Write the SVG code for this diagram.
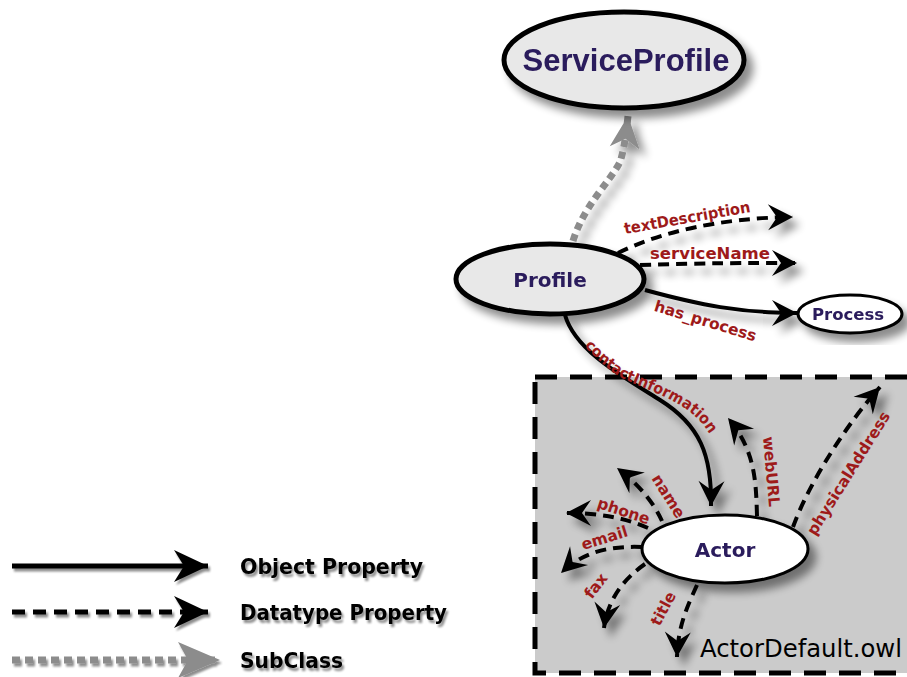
<svg xmlns="http://www.w3.org/2000/svg" width="907" height="677" viewBox="0 0 907 677">
  <defs>
    <filter id="shadow" x="-20%" y="-20%" width="150%" height="150%">
      <feGaussianBlur in="SourceAlpha" stdDeviation="4.5"/>
      <feOffset dx="7" dy="8" result="blur"/>
      <feComponentTransfer><feFuncA type="linear" slope="0.45"/></feComponentTransfer>
      <feMerge><feMergeNode/><feMergeNode in="SourceGraphic"/></feMerge>
    </filter>
    <filter id="textshadow" x="-10%" y="-30%" width="120%" height="170%">
      <feGaussianBlur in="SourceAlpha" stdDeviation="1"/>
      <feOffset dx="2" dy="3"/>
      <feComponentTransfer><feFuncA type="linear" slope="0.45"/></feComponentTransfer>
      <feMerge><feMergeNode/><feMergeNode in="SourceGraphic"/></feMerge>
    </filter>
    <!-- notched arrowheads; the path end sits at the tip -->
    <marker id="head" markerUnits="userSpaceOnUse" markerWidth="25" markerHeight="26" refX="25" refY="13" orient="auto" overflow="visible">
      <path d="M0,0 L25,13 L0,26 L9,13 Z" fill="#000"/>
    </marker>
    <marker id="head-big" markerUnits="userSpaceOnUse" markerWidth="34" markerHeight="32" refX="34" refY="16" orient="auto" overflow="visible">
      <path d="M0,0 L34,16 L0,32 L10,16 Z" fill="#000"/>
    </marker>
    <marker id="head-sub" markerUnits="userSpaceOnUse" markerWidth="32" markerHeight="30" refX="32" refY="15" orient="auto" overflow="visible">
      <path d="M0,0 L32,15 L0,30 L9,15 Z" fill="#8c8c8c"/>
    </marker>
    <marker id="head-sub-big" markerUnits="userSpaceOnUse" markerWidth="42" markerHeight="36" refX="42" refY="18" orient="auto" overflow="visible">
      <path d="M0,0 L42,18 L0,36 L10,18 Z" fill="#8c8c8c"/>
    </marker>
  </defs>
  <style>
    .obj { fill: none; stroke: #000; stroke-width: 4; marker-end: url(#head); }
    .dt { fill: none; stroke: #000; stroke-width: 4; stroke-dasharray: 11 7; marker-end: url(#head); }
    .sub { fill: none; stroke: #8c8c8c; stroke-width: 7; stroke-dasharray: 7 5; marker-end: url(#head-sub); }
    .lbl { font-family: "DejaVu Sans", "Liberation Sans", sans-serif; font-weight: bold; font-size: 15.5px; fill: #9e1a1a; text-anchor: middle; }
    .node-text { font-family: "DejaVu Sans", "Liberation Sans", sans-serif; font-weight: bold; fill: #2a1a5c; text-anchor: middle; }
    .legend-text { font-family: "DejaVu Sans", "Liberation Sans", sans-serif; font-weight: bold; font-size: 22px; fill: #000; }
  </style>

  <rect x="0" y="0" width="907" height="677" fill="#fff"/>

  <!-- ActorDefault.owl module box -->
  <g id="actor-default-owl">
    <rect x="535" y="377" width="400" height="296" fill="#cbcbcb" stroke="#000" stroke-width="5" stroke-dasharray="22 13"/>
    <text x="700" y="657" font-family="DejaVu Sans, Liberation Sans, sans-serif" font-size="25" fill="#000" textLength="202" lengthAdjust="spacingAndGlyphs">ActorDefault.owl</text>
  </g>

  <!-- connectors -->
  <g id="connectors">
    <g filter="url(#shadow)">
      <path class="sub" d="M573,241 C584,205 610,182 620,162 C624,150 626,135 628,116"/>
      <path class="dt" d="M618,253 C660,232 720,218 793,217"/>
      <path class="dt" d="M640,265 C700,263 750,263 797,263"/>
      <path class="obj" d="M645,290 C700,305 740,313 797,313"/>
      <path class="obj" d="M565,315 C575,350 620,375 660,400 C700,425 712,455 711,506"/>
      <path class="dt" d="M757,516 C756,480 755,450 728,418"/>
      <path class="dt" d="M793,527 C810,480 850,420 880,387"/>
      <path class="dt" d="M662,521 C655,505 640,485 617,468"/>
      <path class="dt" d="M648,528 C625,518 600,513 566,513"/>
      <path class="dt" d="M642,547 C612,546 585,550 561,573"/>
      <path class="dt" d="M645,564 C625,578 608,598 604,628"/>
      <path class="dt" d="M697,585 C688,605 678,625 677,657"/>
    </g>
    <!-- property labels -->
    <text class="lbl" transform="translate(688,223) rotate(-10)" textLength="128" lengthAdjust="spacingAndGlyphs">textDescription</text>
    <text class="lbl" x="710" y="259" textLength="120" lengthAdjust="spacingAndGlyphs">serviceName</text>
    <text class="lbl" transform="translate(704,326) rotate(17)">has_process</text>
    <path id="ci-path" d="M584,346 C600,362 612,374 628,381 C650,391 672,398 690,412 C700,420 707,428 714,442" fill="none"/>
    <text class="lbl" style="text-anchor:start"><textPath href="#ci-path" textLength="156" lengthAdjust="spacingAndGlyphs">contactInformation</textPath></text>
    <text class="lbl" transform="translate(766,472) rotate(85)">webURL</text>
    <text class="lbl" transform="translate(853,476) rotate(-58)">physicalAddress</text>
    <text class="lbl" transform="translate(664,499) rotate(58)">name</text>
    <text class="lbl" transform="translate(622,516) rotate(18)">phone</text>
    <text class="lbl" transform="translate(606,543) rotate(-17)">email</text>
    <text class="lbl" transform="translate(600,589) rotate(-52)">fax</text>
    <text class="lbl" transform="translate(668,611) rotate(-62)">title</text>
  </g>

  <!-- nodes -->
  <g id="service-profile" filter="url(#shadow)">
    <ellipse cx="624" cy="60" rx="120" ry="48" fill="#e8e8e8" stroke="#000" stroke-width="5"/>
    <text class="node-text" x="626" y="71" font-size="31" style="font-family:'Liberation Sans',Arial,sans-serif">ServiceProfile</text>
  </g>
  <g id="profile" filter="url(#shadow)">
    <ellipse cx="550" cy="279" rx="94" ry="35" fill="#e8e8e8" stroke="#000" stroke-width="5"/>
    <text class="node-text" x="550" y="287" font-size="20">Profile</text>
  </g>
  <g id="process" filter="url(#shadow)">
    <ellipse cx="850" cy="314" rx="52" ry="19" fill="#fff" stroke="#000" stroke-width="3"/>
    <text class="node-text" x="848" y="320" font-size="16.5">Process</text>
  </g>
  <g id="actor" filter="url(#shadow)">
    <ellipse cx="725" cy="549" rx="83" ry="34" fill="#fff" stroke="#000" stroke-width="3"/>
    <text class="node-text" x="725" y="557" font-size="20">Actor</text>
  </g>

  <!-- legend -->
  <g id="legend" filter="url(#textshadow)">
    <line x1="12" y1="566" x2="208" y2="566" stroke="#000" stroke-width="5" marker-end="url(#head-big)"/>
    <text class="legend-text" x="240" y="574" textLength="183" lengthAdjust="spacingAndGlyphs">Object Property</text>
    <line x1="12" y1="612" x2="208" y2="612" stroke="#000" stroke-width="5" stroke-dasharray="13 8" marker-end="url(#head-big)"/>
    <text class="legend-text" x="240" y="620" textLength="207" lengthAdjust="spacingAndGlyphs">Datatype Property</text>
    <line x1="12" y1="660" x2="220" y2="660" stroke="#8c8c8c" stroke-width="7" stroke-dasharray="8 5" marker-end="url(#head-sub-big)"/>
    <text class="legend-text" x="240" y="668" textLength="103" lengthAdjust="spacingAndGlyphs">SubClass</text>
  </g>
</svg>
